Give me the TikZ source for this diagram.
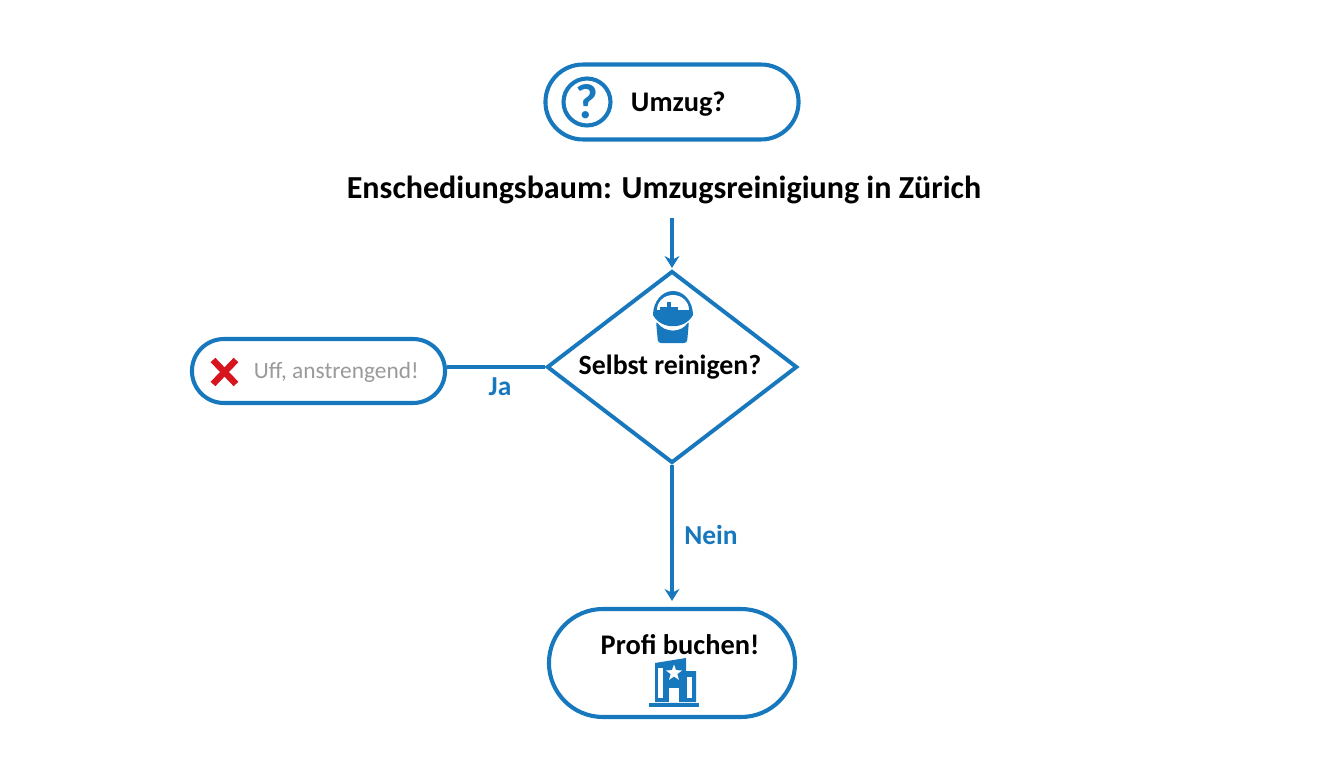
\documentclass[tikz,border=0pt]{standalone}
\usepackage{fontspec}
\setmainfont{Carlito}
\usepackage{xcolor}
\usetikzlibrary{arrows.meta,shapes.geometric,shapes.misc}
\definecolor{flowblue}{HTML}{1878BE}
\definecolor{crossred}{HTML}{D8141E}
\definecolor{softgrey}{HTML}{9A9A9A}
\tikzset{
  pill/.style={draw=flowblue,line width=2.9pt,rounded rectangle,fill=white,inner sep=0pt},
  flow/.style={color=flowblue,line width=2.8pt},
  label/.style={color=flowblue,font=\fontsize{19.5}{22}\selectfont\bfseries},
  mainlabel/.style={font=\fontsize{20.2}{22}\selectfont\bfseries,text=black}
}
\begin{document}
\begin{tikzpicture}[x=0.025cm,y=-0.025cm]
\useasboundingbox (0,0) rectangle (1344,768);

% boxes
\node [pill,minimum width=180pt,minimum height=53.3pt] (umzug) at (672,102) {};
\node [mainlabel,anchor=west] (umzugtext) at (626,104) {Umzug?};
\node [draw=none,font=\fontsize{22.8}{24}\selectfont\bfseries] (title) at (664,190) {Enschediungsbaum: Umzugsreinigiung in Zürich};
\node [diamond,draw=flowblue,line width=2.8pt,minimum width=178pt,minimum height=136.5pt,inner sep=0pt,aspect=1.3] (reinigen) at (672,367) {};
\node [mainlabel,font=\fontsize{19.8}{22}\selectfont\bfseries] (reinigentext) at (670,367) {Selbst reinigen?};
\node [pill,minimum width=180pt,minimum height=45.5pt] (uff) at (318.5,371) {};
\node [anchor=west,text=softgrey,font=\fontsize{16.6}{20}\selectfont] (ufftext) at (249,372) {Uff, anstrengend!};
\node [pill,minimum width=175pt,minimum height=76.8pt] (profi) at (672,663) {};
\node [mainlabel] (profitext) at (680,645) {Profi buchen!};

% connectors
\coordinate (topend) at (672,218);
\draw [flow,-{Stealth[length=8.5pt,width=10.5pt]}] (topend) -- (672,268);
\draw [flow] (uff.east |- reinigen.west) -- (reinigen.west);
\draw [flow,-{Stealth[length=8.5pt,width=10.5pt]}] (reinigen.south) -- ([yshift=4.3pt]profi.north);
\node [label] (ja) at (500,387) {Ja};
\node [label] (nein) at (711,535) {Nein};

% question icon
\draw [flowblue,line width=2.9pt] (587,102) circle[radius=23.5];
\node [text=flowblue,font=\fontsize{35}{36}\selectfont\bfseries] (qmark) at (587,102) {?};

% cross
\draw [crossred,line width=4.6pt] (213,360) -- (236,384) (236,360) -- (213,384);

% bucket
\fill [flowblue] (653,315) arc[start angle=180,end angle=360,x radius=20,y radius=24] .. controls (685,330) and (661,330) .. (653,315) -- cycle;
\fill [white] (657,310) arc[start angle=180,end angle=360,x radius=16,y radius=15] -- cycle;
\fill [flowblue] (660,307) rectangle (678,310);
\fill [flowblue] (667,302) rectangle (671,308);
\fill [flowblue,rounded corners=2pt] (656,321) .. controls (665,333) and (681,333) .. (689,321) -- (687,343) -- (658,343) -- cycle;

% building
\fill [flowblue] (655,663) -- (686,658) -- (686,671) -- (696,671) -- (696,702) -- (655,702) -- cycle;
\fill [white] (658,668) rectangle (663,698);
\fill [white] (687,677) rectangle (692,698);
\fill [white] (669,688) rectangle (679,702);
\node [star,star points=5,star point ratio=2.4,fill=white,inner sep=0pt,minimum size=12pt] (star) at (674,673) {};
\fill [flowblue] (649,703) rectangle (699,707);
\end{tikzpicture}
\end{document}
